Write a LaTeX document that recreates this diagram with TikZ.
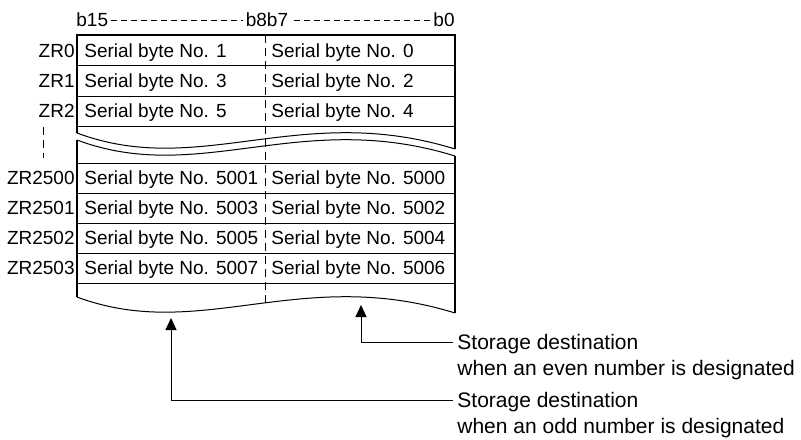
\documentclass[tikz,border=0pt]{standalone}
\usepackage{fontspec}
\setmainfont{Liberation Sans}
\usetikzlibrary{arrows.meta}
\begin{document}
\begin{tikzpicture}[x=0.5pt,y=-0.5pt,
  cell/.style={anchor=west,inner sep=0pt,text height=6.8pt,text depth=0pt,font=\fontsize{9.5}{11}\selectfont},
  zrlabel/.style={cell,anchor=east},
  bitlabel/.style={cell,anchor=center},
  note/.style={anchor=west,inner xsep=2pt,inner ysep=0pt,text height=7.5pt,text depth=0pt,font=\fontsize{10.5}{12}\selectfont},
  frame/.style={line width=1pt},
  rowline/.style={line width=0.5pt},
  bitdash/.style={line width=0.5pt,dash pattern=on 3pt off 2pt},
  middash/.style={line width=0.5pt,dash pattern=on 4pt off 2.5pt},
  pointer/.style={line width=0.5pt,-{Triangle[width=5.5pt,length=6pt]}}]
\useasboundingbox (0,0) rectangle (801,439);
% bit numbers
\node[bitlabel,anchor=west] (b15) at (76,20) {b15};
\node[bitlabel] (b8b7) at (267,20) {b8b7};
\node[bitlabel,anchor=east] (b0) at (455,20) {b0};
\draw[bitdash] ([xshift=1pt]b15.east) -- ([xshift=-1pt]b8b7.west);
\draw[bitdash] ([xshift=2.5pt]b8b7.east) -- ([xshift=-1pt]b0.west);
% frame
\draw[frame] (77,133) -- (77,35) -- (455,35) -- (455,149);
\draw[frame] (77,140) -- (77,297);
\draw[frame] (455,156) -- (455,313);
\foreach \y in {65.5,96,126,163,193,223,253,283}
  \draw[rowline] (77,\y) -- (455,\y);
\foreach \y in {133,140,297}
  \draw[rowline] (77,\y) .. controls (200,\y+46) and (300,\y-32) .. (455,\y+16);
\draw[middash] (265,35) -- (265,305);
\coordinate (gaptop) at (43,127);
\coordinate (gapbot) at (43,158);
\draw[middash] (gaptop) -- (gapbot);
% rows
\foreach \y/\zr/\odd/\even in {50.5/ZR0/1/0,81/ZR1/3/2,111/ZR2/5/4,
    178/ZR2500/5001/5000,208/ZR2501/5003/5002,238/ZR2502/5005/5004,268/ZR2503/5007/5006}{
  \node[zrlabel] (\zr) at (75,\y) {\zr};
  \node[cell] (byte\odd) at (84,\y) {Serial byte No. \odd};
  \node[cell] (byte\even) at (271,\y) {Serial byte No. \even};
}
% storage destinations
\node[note] (evenhead) at (453,342) {Storage destination};
\node[note] (eventail) at (453,368) {when an even number is designated};
\node[note] (oddhead) at (453,400) {Storage destination};
\node[note] (oddtail) at (453,426) {when an odd number is designated};
\coordinate (eventip) at (361,305);
\coordinate (oddtip) at (171,318);
\draw[pointer] (evenhead.west) -| (eventip);
\draw[pointer] (oddhead.west) -| (oddtip);
\end{tikzpicture}
\end{document}
